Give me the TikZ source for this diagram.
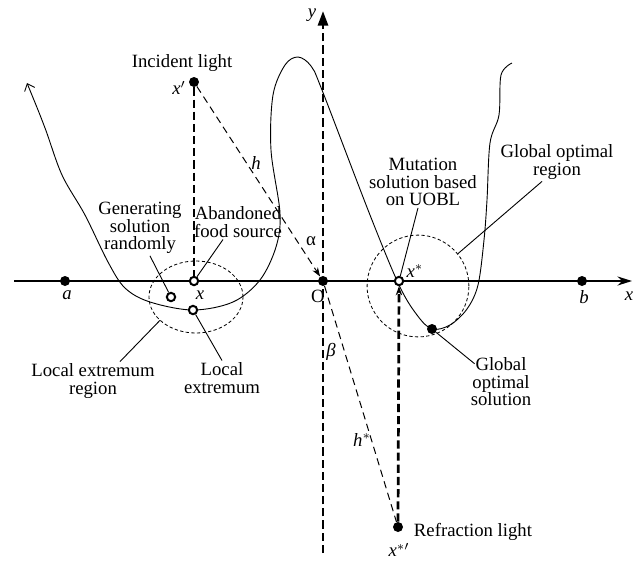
\documentclass[tikz,border=0pt]{standalone}
\usepackage{fontspec}
\setmainfont{Liberation Serif}
\usepackage{tikz}
\usetikzlibrary{arrows.meta,shapes.geometric,calc}

\begin{document}
\begin{tikzpicture}[
    x=0.55pt, y=-0.55pt,
    >=Stealth,
    every node/.style={font=\fontsize{10.3}{9.6}\selectfont},
    lbl/.style={align=center, inner sep=1pt},
    dot/.style={circle, fill=black, inner sep=0pt, minimum size=5.5pt},
    hollow/.style={circle, draw=black, line width=1.1pt, fill=white, inner sep=0pt, minimum size=4.6pt},
    axis/.style={line width=0.8pt, -{Stealth[length=8pt, width=5pt]}},
    ray/.style={dash pattern=on 4pt off 2.6pt, line width=0.55pt},
    normal/.style={dash pattern=on 4.5pt off 2.2pt, line width=1.5pt},
    region/.style={draw, dash pattern=on 1.8pt off 1.3pt, line width=0.45pt, inner sep=0pt},
    pointer/.style={line width=0.5pt}
]
\useasboundingbox (0,0) rectangle (640,562);

% axes
\coordinate (xl) at (14,281);
\coordinate (xr) at (632,281);
\coordinate (yb) at (323,553);
\coordinate (yt) at (323,11);
\draw[axis] (xl) -- (xr);
\draw[normal, -{Triangle[length=8pt, width=5.5pt]}] (yb) -- (yt);
\node at (629,296) {\textit{x}};
\node at (312,15) {\textit{y}};

% regions
\node[region, ellipse, minimum width=51.7pt, minimum height=39.6pt] (locreg) at (196,297) {};
\node[region, circle, minimum size=56pt] (glbreg) at (418,286) {};

% objective function
\draw[{Straight Barb[length=3.5pt, width=6pt]}-, line width=0.5pt]
    plot[smooth, tension=0.55] coordinates {
    (27,83) (45,128) (62,175) (85,215) (108,262) (125,288) (150,302)
    (193,310) (233,302) (260,280) (276,247) (280,213) (271,150)
    (273,95) (285,65) (298,57) (311,66) (322,90) (370,215) (399,285)
    (417,315) (432,329) (450,325) (467,309) (478,285) (484,240)
    (487,200) (490,143) (499,115) (501,75) (512,63)};

% points
\node[dot] (a) at (65,281) {};
\node[dot] (b) at (582,281) {};
\node[dot] (O) at (323,281) {};
\node[dot] (xp) at (194,82) {};
\node[dot] (xsr) at (398,527) {};
\node[dot] (gos) at (432,329) {};
\node[hollow] (x) at (194,281) {};
\node[hollow] (rnd) at (171,297) {};
\node[hollow] (lext) at (193,310) {};
\node[hollow] (xs) at (399,281) {};

\node at (67,295) {\textit{a}};
\node at (584,297) {\textit{b}};
\node at (200,295) {\textit{x}};
\node at (318,296) {O};
\node at (179,88) {\textit{x}$'$};
\node at (415,271) {\textit{x}$^{*}$};
\node at (399,550) {\textit{x}$^{*\prime}$};

% light paths
\draw[normal] (xp) -- (x);
\draw[ray, -{Stealth[length=5pt, width=3.5pt]}] (xp) -- (O);
\draw[ray] (O) -- (xsr);
\draw[normal, -{Stealth[length=5pt, width=3.5pt]}] (xsr) -- (xs);
\node at (256,163) {\textit{h}};
\node at (311,241) {α};
\node at (331,352) {\textit{β}};
\node at (362,440) {\textit{h}$^{*}$};
\node (inc) at (182,63) {Incident light};
\node (refr) at (473,532) {Refraction light};

% annotations
\node[lbl] (gen) at (140,228) {Generating\\solution\\randomly};
\node[lbl] (aband) at (238,222) {Abandoned\\food source};
\node[lbl] (locregl) at (93,381) {Local extremum\\region};
\node[lbl] (lextl) at (222,378) {Local\\extremum};
\node[lbl] (mut) at (423,182) {Mutation\\solution based\\on UOBL};
\node[lbl] (glbregl) at (557,162) {Global optimal\\region};
\node[lbl] (gosl) at (501,382) {Global\\optimal\\solution};

\draw[pointer] ($(gen.south)+(10,0)$) -- (rnd);
\draw[pointer] ($(aband.south)+(-15,0)$) -- (x);
\draw[pointer] ($(locregl.north)+(27,0)$) -- (locreg.213);
\draw[pointer] (lextl.north) -- (lext);
\draw[pointer] ($(mut.south)+(-5,0)$) -- (xs);
\draw[pointer] ($(glbregl.south)+(-15,0)$) -- (glbreg.39);
\draw[pointer] ($(gosl.north west)+(6,8)$) -- (gos);

\end{tikzpicture}
\end{document}
